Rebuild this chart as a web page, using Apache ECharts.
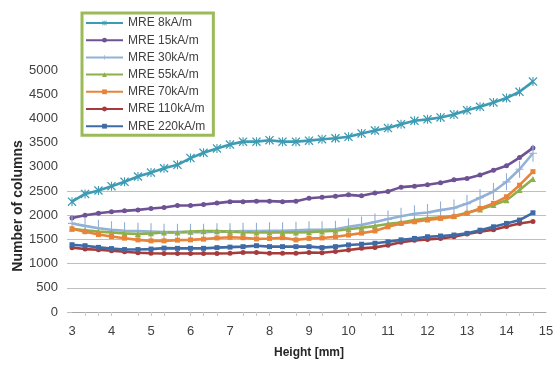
<!DOCTYPE html>
<html>
<head>
<meta charset="utf-8">
<script src="https://cdn.jsdelivr.net/npm/echarts@6/dist/echarts.min.js"></script>
<style>
  html, body { margin: 0; padding: 0; background: #fff; }
  #chart { width: 555px; height: 365px; }
</style>
</head>
<body>
<div id="chart"></div>
<script>
// Sample heights along the column (mm)
const heights = [3, 3.33, 3.67, 4, 4.33, 4.67, 5, 5.33, 5.67, 6, 6.33, 6.67,
  7, 7.33, 7.67, 8, 8.33, 8.67, 9, 9.33, 9.67, 10, 10.33, 10.67,
  11, 11.33, 11.67, 12, 12.33, 12.67, 13, 13.33, 13.67, 14, 14.33, 14.67];

const seriesNames = ['MRE 8kA/m', 'MRE 15kA/m', 'MRE 30kA/m', 'MRE 55kA/m',
  'MRE 70kA/m', 'MRE 110kA/m', 'MRE 220kA/m'];

// Number of columns counted at each height, one list per field strength
const mre8 = [2280, 2440, 2510, 2600, 2690, 2800, 2880, 2970, 3040, 3180, 3290, 3380,
  3460, 3520, 3520, 3550, 3520, 3520, 3540, 3570, 3590, 3620, 3690, 3750,
  3800, 3880, 3950, 3980, 4020, 4080, 4170, 4240, 4330, 4420, 4550, 4760];
const mre15 = [1940, 2000, 2040, 2070, 2090, 2110, 2140, 2160, 2200, 2200, 2220, 2250,
  2280, 2280, 2290, 2290, 2280, 2290, 2350, 2370, 2390, 2420, 2400, 2460,
  2490, 2580, 2600, 2630, 2670, 2730, 2760, 2830, 2930, 3020, 3190, 3390];
const mre30 = [1830, 1780, 1730, 1700, 1680, 1670, 1660, 1650, 1650, 1650, 1650, 1660,
  1660, 1670, 1670, 1680, 1680, 1690, 1700, 1700, 1710, 1760, 1800, 1860,
  1920, 1980, 2030, 2055, 2105, 2150, 2240, 2360, 2490, 2690, 2950, 3280];
const mre55 = [1720, 1690, 1660, 1645, 1625, 1610, 1625, 1645, 1645, 1660, 1670, 1670,
  1660, 1650, 1645, 1645, 1645, 1645, 1650, 1665, 1680, 1710, 1740, 1775,
  1820, 1850, 1900, 1935, 1955, 1985, 2050, 2120, 2210, 2310, 2520, 2750];
const mre70 = [1720, 1660, 1600, 1560, 1525, 1490, 1470, 1470, 1485, 1490, 1505, 1530,
  1545, 1535, 1510, 1520, 1535, 1490, 1520, 1530, 1555, 1590, 1630, 1675,
  1760, 1830, 1865, 1900, 1935, 1970, 2040, 2140, 2245, 2380, 2620, 2900];
const mre110 = [1330, 1300, 1285, 1265, 1245, 1225, 1215, 1210, 1210, 1210, 1210, 1210,
  1215, 1230, 1230, 1215, 1215, 1215, 1230, 1225, 1250, 1280, 1315, 1335,
  1380, 1440, 1480, 1500, 1520, 1555, 1610, 1660, 1700, 1765, 1830, 1870];
const mre220 = [1390, 1370, 1335, 1310, 1290, 1290, 1300, 1320, 1315, 1315, 1315, 1330,
  1340, 1350, 1370, 1350, 1350, 1350, 1350, 1330, 1350, 1385, 1400, 1420,
  1450, 1490, 1520, 1555, 1570, 1590, 1625, 1690, 1760, 1830, 1900, 2050];

const seriesValues = [mre8, mre15, mre30, mre55, mre70, mre110, mre220];

// Axis ticks
const xTicks = [3, 4, 5, 6, 7, 8, 9, 10, 11, 12, 13, 14, 15];
const yTicks = [0, 500, 1000, 1500, 2000, 2500, 3000, 3500, 4000, 4500, 5000];
const yGridTop = 2500;

const colors = ['#3D9BB3', '#6E5294', '#93B1D6', '#8DB04C', '#E8843A', '#A73B3B', '#3E6BA6'];

const starPath = 'path://M1,0L5,4L9,0L10,1L6,5L10,9L9,10L5,6L1,10L0,9L4,5L0,1Z M4.4,0H5.6V10H4.4Z';
const plusPath = 'path://M4.3,0H5.7V20H4.3Z M0,9.3H10V10.7H0Z';
const symbols = [
  { symbol: starPath, size: 9 },
  { symbol: 'circle', size: 5 },
  { symbol: plusPath, size: [8, 17] },
  { symbol: 'triangle', size: 6 },
  { symbol: 'rect', size: 5 },
  { symbol: 'circle', size: 5 },
  { symbol: 'rect', size: 5 }
];

// Minor marks along the height axis
const xMinorTicks = heights.filter((h, i) => i > 0 && i % 4 !== 0);

const series = seriesNames.map((name, k) => ({
  name: name,
  type: 'line',
  data: heights.map((h, i) => [h, seriesValues[k][i]]),
  symbol: symbols[k].symbol,
  symbolSize: symbols[k].size,
  showAllSymbol: true,
  lineStyle: { width: 2.6, color: colors[k] },
  itemStyle: { color: colors[k] },
  emphasis: { disabled: true },
  animation: false
}));

const gridColor = '#BFBFBF';
const splitColors = yTicks.map(v => (v <= yGridTop ? gridColor : 'rgba(0,0,0,0)'));

const chart = echarts.init(document.getElementById('chart'), null, { renderer: 'canvas' });
chart.setOption({
  animation: false,
  backgroundColor: '#ffffff',
  textStyle: { fontFamily: 'Liberation Sans, Arial, sans-serif' },
  grid: { left: 72, right: 9, top: 70, bottom: 53, outerBoundsMode: 'none' },
  legend: {
    orient: 'vertical',
    left: 82,
    top: 13,
    padding: [4, 8, 3, 3],
    borderColor: '#9BBB59',
    borderWidth: 3,
    backgroundColor: '#ffffff',
    itemWidth: 37,
    itemHeight: 6,
    itemGap: 5.2,
    data: seriesNames,
    textStyle: { fontSize: 12, color: '#404040', fontFamily: 'Liberation Sans, Arial, sans-serif' }
  },
  xAxis: {
    type: 'value',
    min: xTicks[0],
    max: xTicks[xTicks.length - 1],
    interval: 1,
    name: 'Height [mm]',
    nameLocation: 'middle',
    nameGap: 35,
    nameTextStyle: { fontSize: 12, fontWeight: 'bold', color: '#262626' },
    axisLine: { show: true, lineStyle: { color: '#A6A6A6', width: 1 } },
    axisTick: { show: true, customValues: xMinorTicks, length: 4, lineStyle: { color: '#C8C8C8' } },
    axisLabel: { fontSize: 13, color: '#404040', margin: 13 },
    splitLine: { show: false }
  },
  yAxis: {
    type: 'value',
    min: yTicks[0],
    max: yTicks[yTicks.length - 1],
    interval: 500,
    axisLine: { show: false },
    axisTick: {
      show: true,
      customValues: yTicks.filter(v => v <= yGridTop),
      length: 5,
      lineStyle: { color: gridColor }
    },
    axisLabel: { fontSize: 13, color: '#404040', margin: 14, formatter: v => String(v) },
    splitLine: { show: true, lineStyle: { color: splitColors, width: 1 } }
  },
  graphic: [{
    type: 'text',
    x: 18,
    y: 206,
    rotation: Math.PI / 2,
    style: {
      text: 'Number of columns',
      fontSize: 14,
      fontWeight: 'bold',
      fill: '#262626',
      fontFamily: 'Liberation Sans, Arial, sans-serif',
      align: 'center',
      verticalAlign: 'middle'
    }
  }],
  series: series
});
</script>
</body>
</html>
